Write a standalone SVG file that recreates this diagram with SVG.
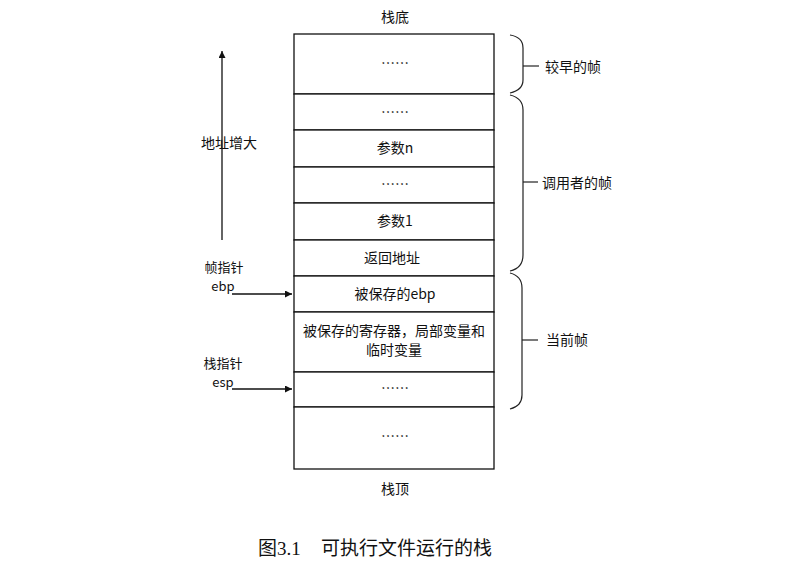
<svg xmlns="http://www.w3.org/2000/svg" width="788" height="570" viewBox="0 0 788 570">
<style>
text{font-family:"Noto Sans CJK SC","Liberation Sans",sans-serif;font-size:14px;fill:#111;text-anchor:middle}
.cell{fill:#fff;stroke:#111;stroke-width:1.3}
.ln{fill:none;stroke:#111;stroke-width:1.3}
.br{fill:none;stroke:#222;stroke-width:1.2}
.sm{font-size:13px}
.cap{font-family:"Liberation Serif","Noto Sans CJK SC",serif;font-size:19px;text-anchor:start}
</style>
<defs>
<marker id="ah" viewBox="0 0 10 10" refX="10" refY="5" markerWidth="7" markerHeight="7" markerUnits="userSpaceOnUse" orient="auto">
<path d="M0,0 L10,5 L0,10 z" fill="#111"/>
</marker>
</defs>
<rect width="788" height="570" fill="#fff"/>
<g id="label-bottom"><text x="395" y="22">栈底</text></g>
<g id="cell1"><rect class="cell" x="294" y="34" width="200" height="60"/><text x="395" y="68">……</text></g>
<g id="cell2"><rect class="cell" x="294" y="94" width="200" height="36"/><text x="395" y="117">……</text></g>
<g id="cell3"><rect class="cell" x="294" y="130" width="200" height="37"/><text x="395" y="153">参数n</text></g>
<g id="cell4"><rect class="cell" x="294" y="167" width="200" height="36"/><text x="395" y="189">……</text></g>
<g id="cell5"><rect class="cell" x="294" y="203" width="200" height="37"/><text x="395" y="226">参数1</text></g>
<g id="cell6"><rect class="cell" x="294" y="240" width="200" height="36"/><text x="392" y="263">返回地址</text></g>
<g id="cell7"><rect class="cell" x="294" y="276" width="200" height="36"/><text x="395" y="299">被保存的ebp</text></g>
<g id="cell8"><rect class="cell" x="294" y="312" width="200" height="60"/><text x="394" y="336">被保存的寄存器，局部变量和</text><text x="394" y="355">临时变量</text></g>
<g id="cell9"><rect class="cell" x="294" y="372" width="200" height="35"/><text x="395" y="393">……</text></g>
<g id="cell10"><rect class="cell" x="294" y="407" width="200" height="62"/><text x="395" y="441">……</text></g>
<g id="label-top"><text x="395" y="494">栈顶</text></g>
<g id="addr-grow"><line class="ln" x1="222" y1="240" x2="222" y2="51" stroke-width="1.6" marker-end="url(#ah)"/><text x="229" y="148">地址增大</text></g>
<g id="ebp-ptr"><text class="sm" x="224" y="272">帧指针</text><text class="sm" x="223" y="291">ebp</text></g>
<g id="esp-ptr"><text class="sm" x="223" y="368">栈指针</text><text class="sm" x="223" y="387">esp</text></g>
<g id="brace1"><text x="573" y="72">较早的帧</text></g>
<g id="brace2"><text x="577" y="188">调用者的帧</text></g>
<g id="brace3"><text x="567" y="345">当前帧</text></g>
<g id="connectors">
<line class="ln" x1="232" y1="294" x2="292" y2="294" marker-end="url(#ah)"/>
<line class="ln" x1="232" y1="389" x2="292" y2="389" marker-end="url(#ah)"/>
<path class="br" d="M510,35 Q523,37 523,48 L523,80 Q523,90 510,93"/>
<line class="br" x1="523" y1="66" x2="539" y2="66"/>
<path class="br" d="M510,95 Q523,98 523,110 L523,255 Q523,268 510,271"/>
<line class="br" x1="523" y1="182" x2="538" y2="182"/>
<path class="br" d="M510,273 Q522,276 522,288 L522,395 Q522,406 510,409"/>
<line class="br" x1="522" y1="340" x2="538" y2="340"/>
</g>
<g id="caption"><text class="cap" x="258" y="555">图3.1</text><text class="cap" x="321" y="555">可执行文件运行的栈</text></g>
</svg>
